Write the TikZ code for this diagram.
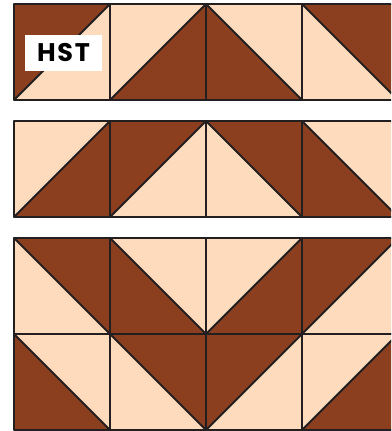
\documentclass[tikz,border=0pt]{standalone}
\usepackage{fontspec}
\newfontfamily\hstfont[LetterSpace=7]{Poppins}
\definecolor{hstdark}{HTML}{8B3F1F}
\definecolor{hstlight}{HTML}{FEDBBC}
\definecolor{hstline}{HTML}{231F20}
\tikzset{
  darkhalf/.style={fill=hstdark},
  lighthalf/.style={fill=hstlight},
  seam/.style={draw=hstline, line width=1.8pt, line join=round, line cap=round},
  labelbox/.style={fill=white, minimum width=77pt, minimum height=36pt, inner sep=0pt,
    font=\hstfont\bfseries\fontsize{25.5}{25.5}\selectfont, text=black}
}
\begin{document}
\begin{tikzpicture}[x=1pt,y=-1pt]
\useasboundingbox (0,0) rectangle (391,431);
\clip (0,0) rectangle (391,431);
\foreach \x/\y/\t in {14/4/0, 110/4/1, 206/4/2, 302/4/3,
                      14/121/1, 110/121/0, 206/121/3, 302/121/2,
                      14/238/3, 110/238/2, 206/238/1, 302/238/0,
                      14/334/2, 110/334/3, 206/334/0, 302/334/1}{
  \pgfmathsetmacro\xa{\x+96}
  \pgfmathsetmacro\yb{\y+96}
  \fill[lighthalf] (\x,\y) rectangle (\xa,\yb);
  \ifcase\t
    \fill[darkhalf] (\x,\y) -- (\xa,\y) -- (\x,\yb) -- cycle;
    \draw[seam] (\x,\yb) -- (\xa,\y);
  \or
    \fill[darkhalf] (\xa,\y) -- (\xa,\yb) -- (\x,\yb) -- cycle;
    \draw[seam] (\x,\yb) -- (\xa,\y);
  \or
    \fill[darkhalf] (\x,\y) -- (\xa,\yb) -- (\x,\yb) -- cycle;
    \draw[seam] (\x,\y) -- (\xa,\yb);
  \or
    \fill[darkhalf] (\x,\y) -- (\xa,\y) -- (\xa,\yb) -- cycle;
    \draw[seam] (\x,\y) -- (\xa,\yb);
  \fi
  \draw[seam] (\x,\y) rectangle (\xa,\yb);
}
\node[labelbox] (label) at (63.5,53) {HST};
\end{tikzpicture}
\end{document}
